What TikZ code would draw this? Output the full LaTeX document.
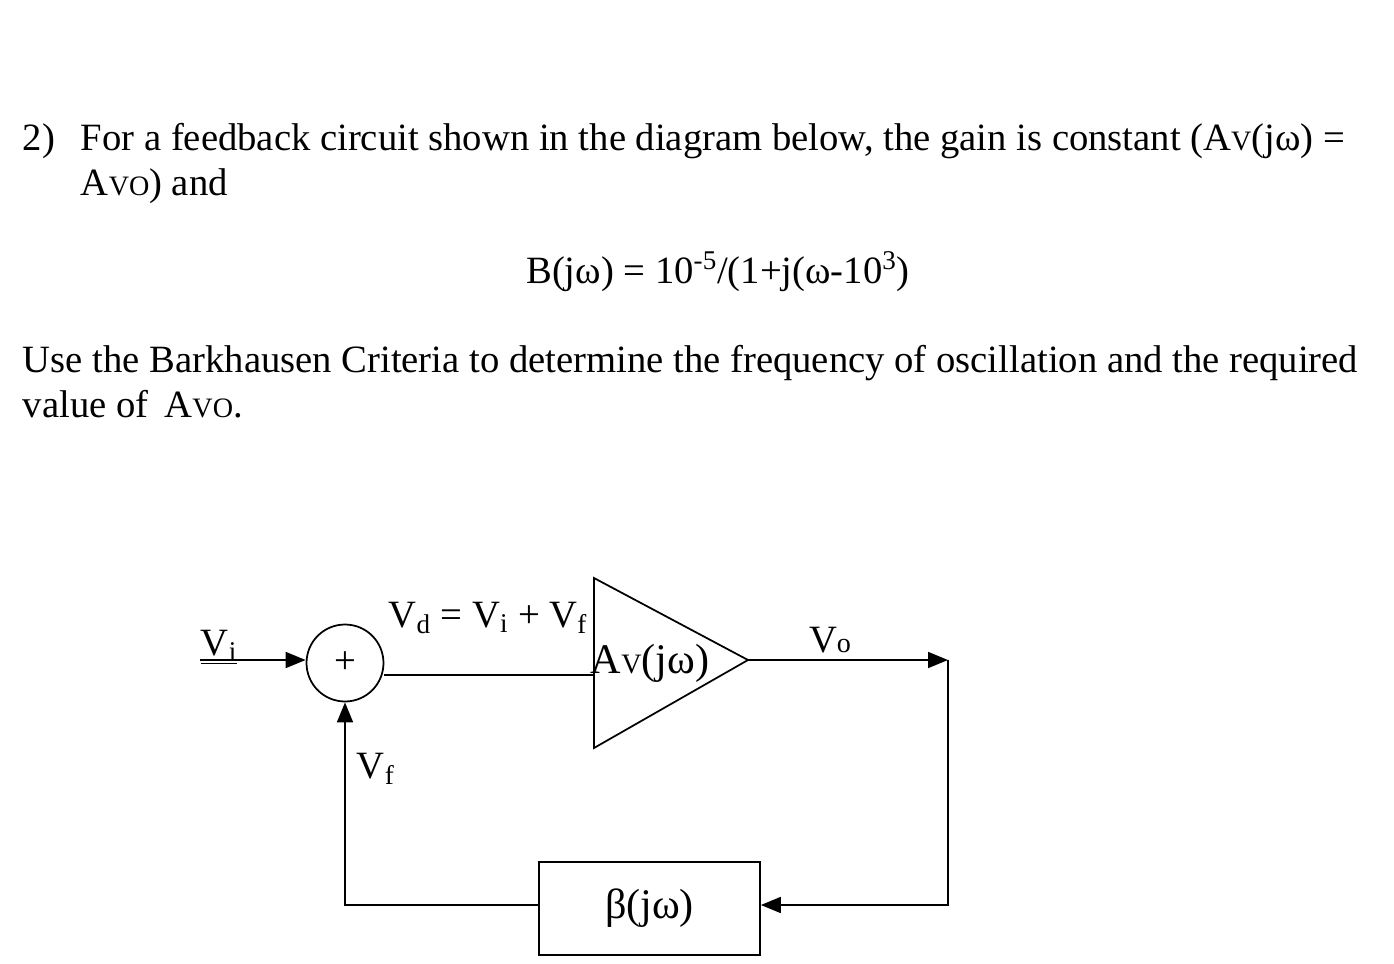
\documentclass[tikz,border=0pt]{standalone}
\usepackage{fontspec}
\setmainfont{Liberation Serif}
\usetikzlibrary{positioning,arrows.meta,calc}
\tikzset{>={Triangle[length=4mm,width=3.2mm]}}
\newcommand{\sv}[1]{{\fontsize{16}{16}\selectfont #1}}

\begin{document}
\begin{tikzpicture}[x=0.02cm, y=-0.02cm, line width=1pt, font=\fontsize{22}{26}\selectfont]
        \useasboundingbox (0,0) rectangle (1394,964);
        % question text
        \node[anchor=base west, inner sep=0pt] (num) at (22,150) {2)};
        \node[anchor=base west, inner sep=0pt] (l1) at (80,150) {For a feedback circuit shown in the diagram below, the gain is constant (A\sv{V}(jω) =};
        \node[anchor=base west, inner sep=0pt] (l2) at (80,195) {A\sv{V}\sv{O}) and};
        \node[anchor=base] (eq) at (718,283) {B(jω) = 10\textsuperscript{-5}/(1+j(ω-10\textsuperscript{3})};
        \node[anchor=base west, inner sep=0pt] (l3) at (22,372) {Use the Barkhausen Criteria to determine the frequency of oscillation and the required};
        \node[anchor=base west, inner sep=0pt] (l4) at (22,417) {value of \,A\sv{V}\sv{O}.};

        % block diagram
        \node[draw, circle, minimum size=1.54cm, inner sep=0pt] (sum) at (345,663) {+};
        \coordinate (in) at (200,660);
        \draw[fill=white] (594,578) coordinate (ta) -- (748,660) coordinate (tip) -- (594,748) coordinate (tb) -- cycle;
        \node[font=\fontsize{24}{28}\selectfont] (amp) at (650,663) {A\sv{V}(jω)};
        \node[draw, minimum width=4.42cm, minimum height=1.86cm, font=\fontsize{24}{28}\selectfont] (beta) at (649.5,908.5) {β(jω)};
        \coordinate (out) at (948,660);
        \coordinate (corner) at (948,905);
        \coordinate (fb) at (345,905);

        \node[anchor=base west, inner sep=0pt] (vi) at (200,655) {\underline{V\textsubscript{i}}};
        \node[anchor=base] (vd) at (488,627) {V\textsubscript{d} = V\textsubscript{i} + V\textsubscript{f}};
        \node[anchor=base] (vo) at (830,652) {V\sv{o}};
        \node[anchor=base west, inner sep=0pt] (vf) at (356,778) {V\textsubscript{f}};

        \draw[->] (in) -- (in -| sum.west);
        \draw (sum.east |- 0,675) -- (594,675);
        \draw[->] (tip) -- (out);
        \draw[->] (out) -- (corner) -- (beta.east |- corner);
        \draw[->] (beta.west |- fb) -- (fb) -- (sum.south);
\end{tikzpicture}
\end{document}
